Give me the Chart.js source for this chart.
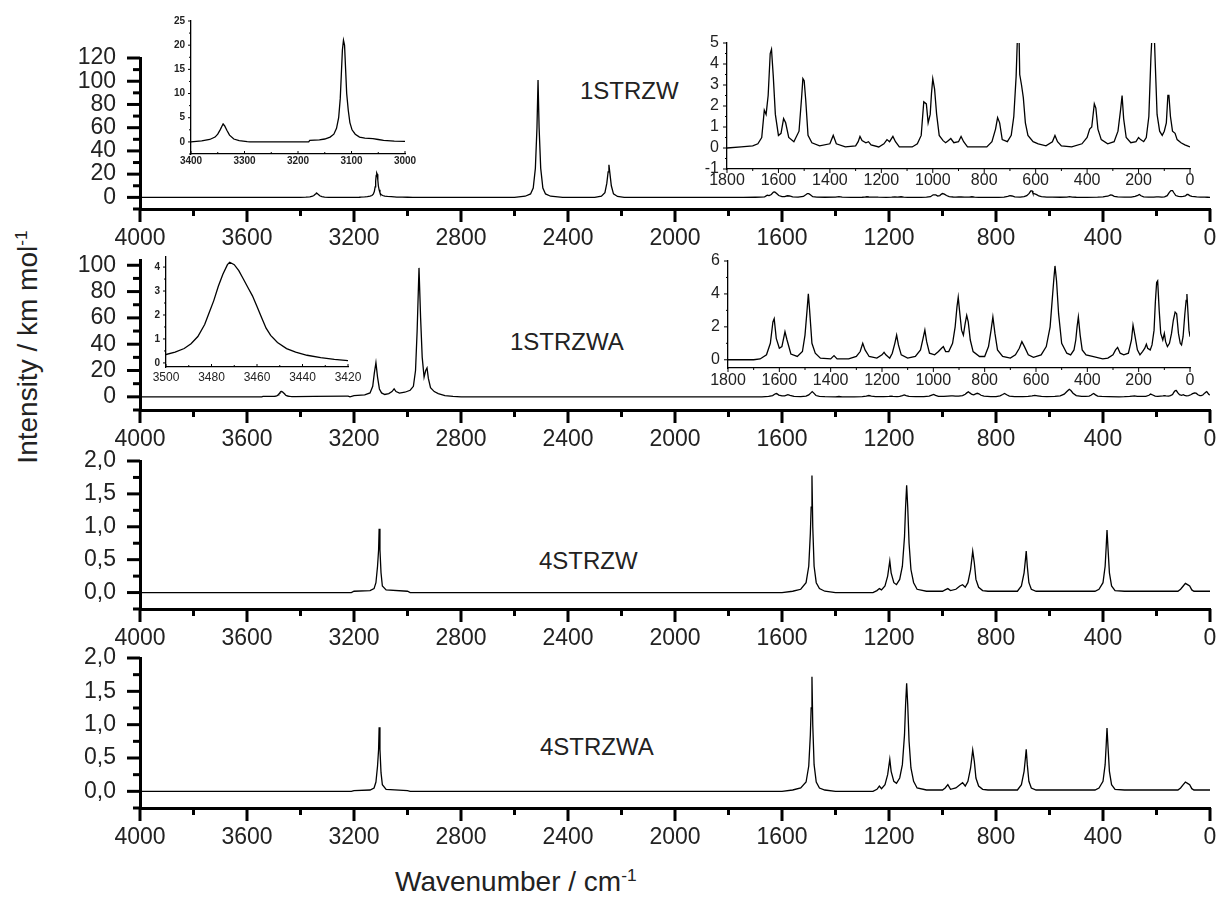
<!DOCTYPE html>
<html>
<head>
<meta charset="utf-8">
<title>Calculated IR spectra</title>
<script src="https://cdn.jsdelivr.net/npm/chart.js@4.4.1/dist/chart.umd.min.js"></script>
<style>
  body { margin: 0; background: #fff; }
  #page { position: relative; width: 1221px; height: 911px; overflow: hidden;
          font-family: "Liberation Sans", Arial, sans-serif; color: #222; }
  #page canvas { position: absolute; }
  .name { position: absolute; font-size: 24px; line-height: 1; white-space: nowrap; }
  .title { position: absolute; font-size: 28px; line-height: 1; white-space: nowrap; }
  .title sup { font-size: 62%; vertical-align: 0.6em; line-height: 0; }
  #ytitle { width: 400px; text-align: center; transform: rotate(-90deg); transform-origin: 50% 50%; }
</style>
</head>
<body>
<div id="page">
  <div class="name" style="left:580px; top:79px;">1STRZW</div>
  <div class="name" style="left:510px; top:330px;">1STRZWA</div>
  <div class="name" style="left:539px; top:549px;">4STRZW</div>
  <div class="name" style="left:540px; top:735px;">4STRZWA</div>
  <div class="title" id="ytitle" style="left:-172px; top:333px;">Intensity / km mol<sup>-1</sup></div>
  <div class="title" style="left:395px; top:868px;">Wavenumber / cm<sup>-1</sup></div>
</div>
<script>
const FONT = '"Liberation Sans", Arial, sans-serif';

// spectra: [wavenumber (cm-1), intensity (km/mol)]
const sp1STRZW = [
  [4000, 0], [3400, 0], [3380, 0.2], [3365, 0.5], [3355, 1.0], [3350, 1.6], [3345, 2.6],
  [3342, 3.3], [3340, 3.7], [3337, 3.3], [3333, 2.4], [3328, 1.4], [3320, 0.6], [3310, 0.25],
  [3295, 0.05], [3290, 0], [3180, 0], [3178, 0.3], [3160, 0.4], [3150, 0.6], [3140, 1.0],
  [3133, 1.6], [3128, 2.8], [3124, 5], [3121, 9], [3119, 14], [3117, 19], [3115, 21],
  [3113, 20], [3111, 15], [3109, 10], [3106, 6.5], [3103, 4], [3099, 2.5], [3093, 1.6],
  [3085, 1.0], [3075, 0.8], [3060, 0.7], [3050, 0.5], [3040, 0.3], [3020, 0.15], [3000, 0.1],
  [2980, 0],
  [2600, 0], [2560, 1], [2540, 3], [2530, 8], [2522, 25], [2516, 60], [2512, 101],
  [2508, 60], [2502, 25], [2494, 8], [2484, 3], [2465, 1], [2420, 0],
  [2300, 0], [2275, 1], [2262, 4], [2255, 12], [2250, 22], [2247, 28], [2243, 20],
  [2238, 10], [2230, 3], [2215, 0.8], [2190, 0], [1800, 0],
  [1745, 0.05], [1700, 0.1], [1680, 0.2], [1665, 0.5], [1655, 1.8], [1648, 1.6], [1640, 2.5],
  [1632, 4.5], [1627, 4.7], [1620, 3.4], [1612, 1.6], [1600, 0.6], [1590, 0.7], [1580, 1.4],
  [1572, 1.2], [1560, 0.5], [1540, 0.3], [1520, 0.8], [1510, 2.4], [1505, 3.3], [1500, 3.2],
  [1494, 2.3], [1485, 0.6], [1470, 0.25], [1440, 0.1], [1400, 0.2], [1387, 0.6], [1375, 0.2],
  [1340, 0.05], [1300, 0.1], [1290, 0.3], [1283, 0.55], [1275, 0.35], [1260, 0.25], [1250, 0.3],
  [1240, 0.15], [1210, 0.05], [1190, 0.2], [1178, 0.4], [1168, 0.3], [1155, 0.55], [1145, 0.3],
  [1130, 0.05], [1080, 0.05], [1060, 0.2], [1045, 0.6], [1035, 2.2], [1025, 2.1], [1018, 1.2],
  [1010, 1.6], [1005, 2.6], [1000, 3.3], [993, 2.8], [985, 1.6], [975, 0.6], [960, 0.35],
  [950, 0.25], [940, 0.35], [930, 0.45], [918, 0.25], [900, 0.3], [890, 0.55], [880, 0.3],
  [865, 0.05], [790, 0.05], [770, 0.3], [756, 0.9], [748, 1.45], [740, 1.2], [730, 0.4],
  [710, 0.3], [695, 0.6], [685, 1.5], [676, 3.4], [670, 5.6], [665, 5.6], [662, 3.5],
  [655, 3.0], [648, 2.4], [640, 1.2], [630, 0.6], [610, 0.3], [590, 0.2], [560, 0.1],
  [535, 0.3], [525, 0.6], [515, 0.3], [500, 0.1], [460, 0.05], [420, 0.2], [400, 0.5],
  [390, 0.9], [382, 1.0], [372, 2.1], [366, 1.9], [358, 0.9], [345, 0.4], [320, 0.2],
  [295, 0.3], [280, 0.8], [270, 1.8], [264, 2.5], [258, 1.4], [248, 0.5], [230, 0.25],
  [210, 0.3], [200, 0.5], [192, 0.4], [180, 0.3], [170, 0.5], [160, 1.5], [152, 4.3],
  [146, 5.8], [140, 5.8], [135, 4.0], [128, 1.6], [118, 0.8], [108, 0.6], [100, 0.8],
  [92, 1.2], [86, 2.5], [82, 2.5], [76, 1.5], [68, 0.8], [58, 0.7], [50, 0.4], [35, 0.25],
  [20, 0.15], [10, 0.1], [0, 0.05]
];

const sp1STRZWA = [
  [4000, 0], [3545, 0], [3540, 0.3], [3500, 0.35], [3496, 0.45], [3492, 0.6], [3489, 0.8],
  [3486, 1.1], [3483, 1.6], [3481, 2.1], [3479, 2.6], [3477, 3.2], [3475, 3.7], [3473, 4.1],
  [3472, 4.2], [3470, 4.1], [3468, 3.85], [3466, 3.5], [3464, 3.15], [3462, 2.8], [3460, 2.35],
  [3458, 1.9], [3456, 1.45], [3454, 1.15], [3451, 0.85], [3447, 0.6], [3443, 0.45], [3438, 0.32],
  [3432, 0.22], [3426, 0.15], [3420, 0.1], [3350, 0.3], [3230, 0.6], [3222, 0.5], [3215, 0],
  [3200, 1], [3160, 1.5], [3140, 3], [3130, 8], [3124, 18], [3118, 26], [3112, 15], [3105, 6],
  [3097, 3], [3085, 1.8], [3070, 2.5], [3058, 4], [3050, 6], [3043, 4], [3030, 2.8],
  [3010, 3.5], [2990, 5], [2978, 8], [2970, 20], [2964, 50], [2957, 98], [2951, 60],
  [2945, 30], [2938, 15], [2932, 20], [2927, 22], [2922, 14], [2914, 7], [2900, 4],
  [2885, 2.5], [2860, 1], [2830, 0.3], [2800, 0], [1800, 0],
  [1700, 0], [1675, 0.05], [1650, 0.3], [1635, 1.0], [1625, 2.3], [1620, 2.5], [1612, 1.3],
  [1600, 0.7], [1590, 0.8], [1578, 1.7], [1570, 1.2], [1555, 0.35], [1530, 0.2], [1510, 0.5],
  [1500, 1.5], [1492, 3.0], [1487, 4.0], [1482, 3.0], [1473, 1.0], [1460, 0.4], [1440, 0.1],
  [1400, 0.05], [1387, 0.25], [1375, 0.05], [1330, 0.05], [1300, 0.2], [1285, 0.5], [1275, 1.0],
  [1266, 0.6], [1250, 0.2], [1220, 0.1], [1200, 0.3], [1192, 0.45], [1185, 0.3], [1170, 0.1],
  [1160, 0.4], [1150, 1.0], [1143, 1.5], [1136, 0.9], [1125, 0.3], [1100, 0.1], [1070, 0.2],
  [1050, 0.6], [1040, 1.3], [1033, 1.8], [1026, 1.1], [1015, 0.4], [995, 0.3], [980, 0.5],
  [968, 0.7], [961, 0.8], [952, 0.5], [940, 0.5], [925, 1.0], [915, 2.0], [908, 3.2],
  [903, 3.8], [898, 3.0], [890, 1.8], [883, 1.5], [876, 2.2], [870, 2.7], [864, 2.3],
  [856, 1.2], [845, 0.5], [820, 0.2], [800, 0.2], [785, 0.8], [775, 1.8], [768, 2.6],
  [760, 1.6], [750, 0.6], [730, 0.2], [700, 0.1], [680, 0.3], [665, 0.7], [655, 1.1],
  [645, 0.8], [630, 0.3], [610, 0.15], [580, 0.3], [560, 0.8], [545, 2.0], [535, 4.0],
  [530, 5.0], [526, 5.7], [520, 4.8], [512, 2.8], [500, 1.0], [480, 0.4], [465, 0.3],
  [452, 0.6], [445, 1.2], [440, 2.0], [435, 2.6], [428, 1.5], [420, 0.6], [405, 0.3],
  [380, 0.2], [340, 0.05], [320, 0.1], [300, 0.3], [290, 0.6], [282, 0.75], [272, 0.4],
  [258, 0.3], [240, 0.4], [228, 1.2], [222, 2.1], [214, 1.4], [205, 0.6], [195, 0.3],
  [185, 0.5], [176, 0.7], [170, 0.95], [165, 0.7], [155, 0.6], [148, 0.9], [140, 1.8],
  [135, 3.5], [130, 4.7], [126, 4.8], [120, 3.0], [114, 1.6], [106, 1.2], [100, 1.6],
  [95, 1.1], [88, 0.8], [80, 1.0], [72, 1.6], [65, 2.4], [58, 2.9], [52, 2.8], [45, 1.6],
  [38, 1.0], [33, 0.9], [27, 1.4], [20, 2.8], [15, 3.6], [12, 4.0], [8, 2.9], [4, 1.8], [0, 1.4]
];

const sp4STRZW = [
  [4000, 0], [3210, 0], [3200, 0.02], [3140, 0.03], [3125, 0.06], [3118, 0.15], [3112, 0.4],
  [3108, 0.65], [3106, 0.97], [3103, 0.65], [3099, 0.3], [3094, 0.1], [3080, 0.04], [3000, 0.02],
  [2990, 0], [1600, 0], [1560, 0.02], [1530, 0.05], [1510, 0.15], [1500, 0.4], [1494, 0.9],
  [1491, 1.3], [1488, 1.78], [1485, 1.0], [1480, 0.4], [1472, 0.15], [1460, 0.06], [1440, 0.02],
  [1400, 0], [1260, 0], [1245, 0.03], [1236, 0.06], [1228, 0.04], [1215, 0.1], [1205, 0.25],
  [1197, 0.48], [1192, 0.3], [1182, 0.15], [1172, 0.12], [1160, 0.2], [1150, 0.4], [1142, 0.85],
  [1138, 1.3], [1134, 1.63], [1130, 1.3], [1125, 0.75], [1118, 0.35], [1108, 0.15], [1095, 0.05],
  [1060, 0.02], [1000, 0.02], [990, 0.04], [980, 0.06], [970, 0.03], [950, 0.05], [935, 0.1],
  [925, 0.12], [915, 0.08], [905, 0.15], [895, 0.35], [887, 0.63], [881, 0.45], [875, 0.2],
  [865, 0.08], [850, 0.03], [830, 0.02], [720, 0.02], [705, 0.1], [695, 0.3], [690, 0.5],
  [687, 0.63], [683, 0.4], [677, 0.15], [668, 0.05], [650, 0.02], [430, 0.02], [415, 0.05],
  [400, 0.15], [392, 0.4], [388, 0.7], [385, 0.95], [381, 0.65], [376, 0.3], [368, 0.1],
  [355, 0.03], [320, 0.02], [120, 0.02], [110, 0.05], [100, 0.1], [92, 0.14], [84, 0.12],
  [76, 0.1], [68, 0.04], [60, 0.02], [0, 0.02]
];

const sp4STRZWA = [
  [4000, 0], [3210, 0], [3200, 0.01], [3140, 0.02], [3125, 0.05], [3118, 0.14], [3112, 0.38],
  [3108, 0.63], [3106, 0.96], [3103, 0.63], [3099, 0.28], [3094, 0.1], [3080, 0.03], [3000, 0.01],
  [2990, 0], [1600, 0], [1560, 0.02], [1530, 0.05], [1510, 0.14], [1500, 0.38], [1494, 0.85],
  [1491, 1.25], [1488, 1.72], [1485, 1.0], [1480, 0.4], [1472, 0.14], [1460, 0.05], [1440, 0.02],
  [1400, 0], [1260, 0], [1245, 0.03], [1236, 0.08], [1228, 0.04], [1215, 0.1], [1205, 0.25],
  [1197, 0.48], [1192, 0.3], [1182, 0.15], [1172, 0.12], [1160, 0.2], [1150, 0.4], [1142, 0.85],
  [1138, 1.3], [1134, 1.62], [1130, 1.3], [1125, 0.75], [1118, 0.35], [1108, 0.15], [1095, 0.05],
  [1060, 0.02], [1000, 0.02], [990, 0.05], [980, 0.1], [970, 0.03], [950, 0.05], [935, 0.1],
  [925, 0.13], [915, 0.08], [905, 0.15], [895, 0.35], [887, 0.62], [881, 0.45], [875, 0.2],
  [865, 0.08], [850, 0.03], [830, 0.02], [720, 0.02], [705, 0.1], [695, 0.3], [690, 0.5],
  [687, 0.63], [683, 0.4], [677, 0.15], [668, 0.05], [650, 0.02], [430, 0.02], [415, 0.05],
  [400, 0.15], [392, 0.4], [388, 0.7], [385, 0.95], [381, 0.65], [376, 0.3], [368, 0.1],
  [355, 0.03], [320, 0.02], [120, 0.02], [110, 0.05], [100, 0.1], [92, 0.14], [84, 0.12],
  [76, 0.1], [68, 0.04], [60, 0.02], [0, 0.02]
];

// tick values
const wnTicks = [4000, 3600, 3200, 2800, 2400, 2000, 1600, 1200, 800, 400, 0];
const yTicks1STRZW = [0, 20, 40, 60, 80, 100, 120];
const yTicks1STRZWA = [0, 20, 40, 60, 80, 100];
const yTicks4STRZ = [0, 0.5, 1, 1.5, 2];
const chTicks = [3400, 3300, 3200, 3100, 3000];
const chYTicks = [0, 5, 10, 15, 20, 25];
const lowTicks = [1800, 1600, 1400, 1200, 1000, 800, 600, 400, 200, 0];
const lowYTicks1 = [-1, 0, 1, 2, 3, 4, 5];
const lowYTicks2 = [0, 2, 4, 6];
const ohTicks = [3500, 3480, 3460, 3440, 3420];
const ohYTicks = [0, 1, 2, 3, 4];

// major and minor tick marks drawn along both axes
const tickMarks = {
  id: 'tickMarks',
  afterDraw(chart, args, o) {
    const ctx = chart.ctx;
    const area = chart.chartArea;
    ctx.save();
    ctx.strokeStyle = '#000';
    ctx.lineWidth = o.width;
    ['x', 'y'].forEach(id => {
      const scale = chart.scales[id];
      const t = o[id];
      const n = Math.round((t.to - t.from) / t.step);
      for (let i = 0; i <= n; i++) {
        const v = t.from + i * t.step;
        const major = Math.abs(v / t.major - Math.round(v / t.major)) < 1e-6;
        const len = (major ? o.majorLen : o.minorLen) * (t.inward ? -1 : 1);
        const p = scale.getPixelForValue(v);
        ctx.beginPath();
        if (id === 'x') {
          ctx.moveTo(p, area.bottom);
          ctx.lineTo(p, area.bottom + len);
        } else {
          ctx.moveTo(area.left, p);
          ctx.lineTo(area.left - len, p);
        }
        ctx.stroke();
      }
    });
    ctx.restore();
  }
};

const page = document.getElementById('page');
const plain = v => String(v);
const comma = v => v.toFixed(1).replace('.', ',');

function makeChart(c) {
  const w = c.plot.r - c.plot.l + c.m.l + c.m.r;
  const h = c.plot.b - c.plot.t + c.m.t + c.m.b;
  const cv = document.createElement('canvas');
  cv.width = w;
  cv.height = h;
  cv.style.left = (c.plot.l - c.m.l) + 'px';
  cv.style.top = (c.plot.t - c.m.t) + 'px';
  cv.style.width = w + 'px';
  cv.style.height = h + 'px';
  page.appendChild(cv);

  const axis = (a, size) => ({
    type: 'linear',
    reverse: a.reverse || false,
    min: a.min,
    max: a.max,
    afterBuildTicks: s => { s.ticks = a.ticks.map(v => ({ value: v })); },
    afterFit: s => {
      if (s.isHorizontal()) s.height = size; else s.width = size;
      s.paddingTop = s.paddingBottom = s.paddingLeft = s.paddingRight = 0;
    },
    grid: { display: false, drawTicks: false },
    border: { display: true, color: '#000', width: c.axisWidth },
    ticks: {
      font: { family: FONT, size: a.fontSize, weight: a.weight || 'normal', lineHeight: 1 },
      color: '#222',
      padding: a.pad,
      autoSkip: false,
      maxRotation: 0,
      minRotation: 0,
      callback: a.fmt || plain
    }
  });

  return new Chart(cv, {
    type: 'line',
    data: {
      datasets: [{
        data: c.data.map(([x, y]) => ({ x, y })),
        borderColor: '#000',
        borderWidth: c.lineWidth,
        pointRadius: 0,
        tension: 0
      }]
    },
    plugins: [tickMarks],
    options: {
      responsive: false,
      animation: false,
      events: [],
      layout: { padding: { top: c.m.t, right: c.m.r, left: 0, bottom: 0 } },
      plugins: {
        legend: { display: false },
        tooltip: { enabled: false },
        tickMarks: c.marks
      },
      scales: { x: axis(c.x, c.m.b), y: axis(c.y, c.m.l) }
    }
  });
}

const mainX = { min: 0, max: 4000, reverse: true, ticks: wnTicks, fontSize: 23, pad: 18 };
const mainXMarks = { from: 0, to: 4000, step: 200, major: 400 };
const mainMargin = { l: 80, r: 11, t: 15, b: 45 };

// 1STRZW
makeChart({
  plot: { l: 140, r: 1210, t: 58, b: 209 }, m: mainMargin, data: sp1STRZW,
  lineWidth: 1.3, axisWidth: 3,
  x: mainX,
  y: { min: -10, max: 120, ticks: yTicks1STRZW, fontSize: 23, pad: 24 },
  marks: { width: 3, majorLen: 13, minorLen: 7, x: mainXMarks, y: { from: -10, to: 120, step: 10, major: 20 } }
});

// 1STRZWA
makeChart({
  plot: { l: 140, r: 1210, t: 260, b: 410 }, m: mainMargin, data: sp1STRZWA,
  lineWidth: 1.3, axisWidth: 3,
  x: mainX,
  y: { min: -10, max: 104, ticks: yTicks1STRZWA, fontSize: 23, pad: 24 },
  marks: { width: 3, majorLen: 13, minorLen: 7, x: mainXMarks, y: { from: -10, to: 100, step: 10, major: 20 } }
});

// 4STRZW
makeChart({
  plot: { l: 140, r: 1210, t: 461, b: 609 }, m: mainMargin, data: sp4STRZW,
  lineWidth: 1.3, axisWidth: 3,
  x: mainX,
  y: { min: -0.25, max: 2, ticks: yTicks4STRZ, fontSize: 23, pad: 24, fmt: comma },
  marks: { width: 3, majorLen: 13, minorLen: 7, x: mainXMarks, y: { from: -0.25, to: 2, step: 0.25, major: 0.5 } }
});

// 4STRZWA
makeChart({
  plot: { l: 140, r: 1210, t: 658, b: 808 }, m: mainMargin, data: sp4STRZWA,
  lineWidth: 1.3, axisWidth: 3,
  x: mainX,
  y: { min: -0.25, max: 2, ticks: yTicks4STRZ, fontSize: 23, pad: 24, fmt: comma },
  marks: { width: 3, majorLen: 13, minorLen: 7, x: mainXMarks, y: { from: -0.25, to: 2, step: 0.25, major: 0.5 } }
});

// 1STRZW, C-H stretching region
makeChart({
  plot: { l: 191, r: 405, t: 21, b: 154 }, m: { l: 40, r: 15, t: 10, b: 20 }, data: sp1STRZW,
  lineWidth: 1.3, axisWidth: 1.3,
  x: { min: 3000, max: 3400, reverse: true, ticks: chTicks, fontSize: 10, weight: 'bold', pad: 2 },
  y: { min: -2.5, max: 25, ticks: chYTicks, fontSize: 10, weight: 'bold', pad: 6 },
  marks: { width: 1, majorLen: 3, minorLen: 2,
           x: { from: 3000, to: 3400, step: 50, major: 100, inward: true },
           y: { from: -2.5, to: 25, step: 2.5, major: 5 } }
});

// 1STRZW, fingerprint region
makeChart({
  plot: { l: 727, r: 1190, t: 43, b: 169 }, m: { l: 40, r: 14, t: 12, b: 28 }, data: sp1STRZW,
  lineWidth: 1.3, axisWidth: 1.3,
  x: { min: 0, max: 1800, reverse: true, ticks: lowTicks, fontSize: 16, pad: 4 },
  y: { min: -1, max: 5, ticks: lowYTicks1, fontSize: 16, pad: 8 },
  marks: { width: 1, majorLen: 4, minorLen: 2,
           x: { from: 0, to: 1800, step: 100, major: 200 },
           y: { from: -1, to: 5, step: 0.5, major: 1 } }
});

// 1STRZWA, O-H stretching region
makeChart({
  plot: { l: 166, r: 348, t: 257, b: 367 }, m: { l: 30, r: 15, t: 10, b: 22 }, data: sp1STRZWA,
  lineWidth: 1.3, axisWidth: 1.3,
  x: { min: 3420, max: 3500, reverse: true, ticks: ohTicks, fontSize: 12, pad: 5 },
  y: { min: -0.17, max: 4.42, ticks: ohYTicks, fontSize: 10, weight: 'bold', pad: 6 },
  marks: { width: 1, majorLen: 3, minorLen: 2,
           x: { from: 3420, to: 3500, step: 10, major: 20, inward: true },
           y: { from: 0, to: 4, step: 0.5, major: 1 } }
});

// 1STRZWA, fingerprint region
makeChart({
  plot: { l: 728, r: 1190, t: 261, b: 368 }, m: { l: 40, r: 14, t: 12, b: 28 }, data: sp1STRZWA,
  lineWidth: 1.3, axisWidth: 1.3,
  x: { min: 0, max: 1800, reverse: true, ticks: lowTicks, fontSize: 16, pad: 5 },
  y: { min: -0.5, max: 6, ticks: lowYTicks2, fontSize: 16, pad: 8 },
  marks: { width: 1, majorLen: 4, minorLen: 2,
           x: { from: 0, to: 1800, step: 100, major: 200 },
           y: { from: 0, to: 6, step: 1, major: 2 } }
});
</script>
</body>
</html>
